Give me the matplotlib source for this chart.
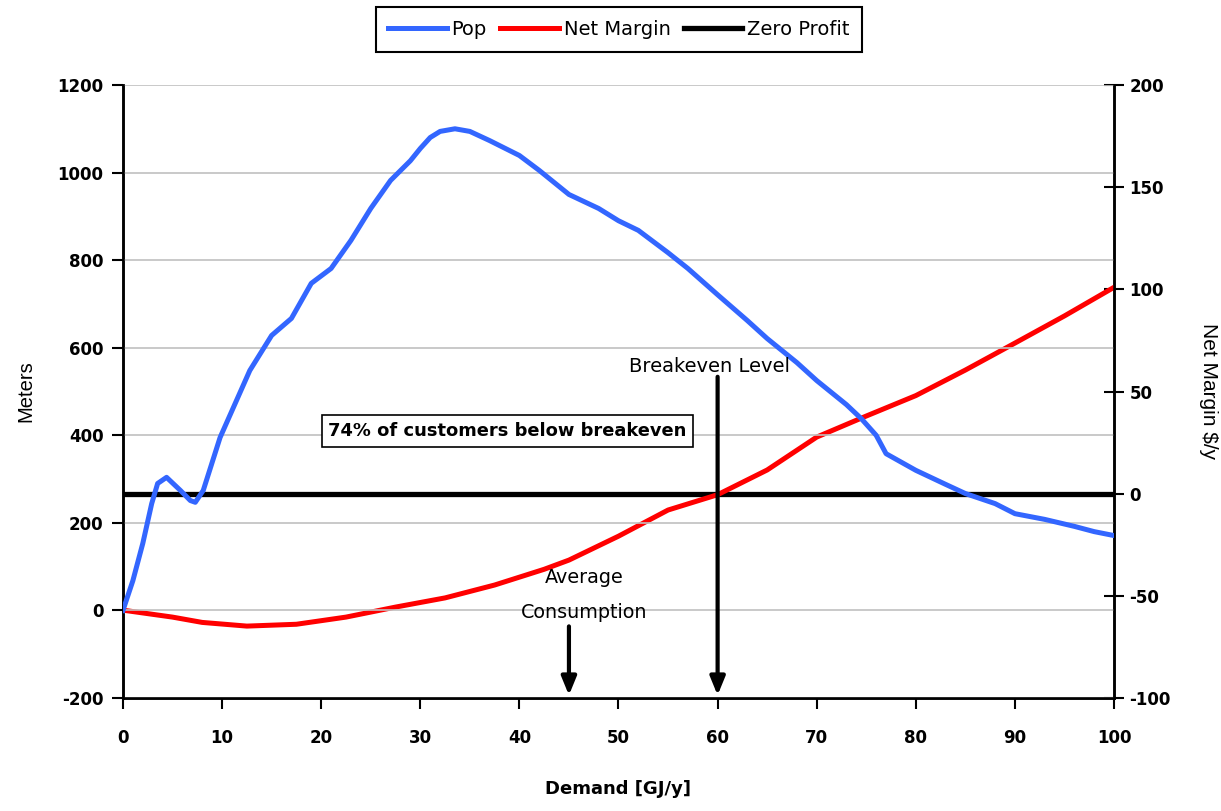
import matplotlib
matplotlib.use('Agg')
import matplotlib.pyplot as plt
import numpy as np

# demand (GJ/y) vs number of meters
pop_x = [0, 1, 2, 2.9, 3.5, 4.4, 5.8, 6.8, 7.3, 8.1, 9.8, 12.8, 15, 17, 19, 21, 23, 25, 27, 29,
         30, 31, 32, 33.5, 35, 37, 40, 42, 45, 48, 50, 52, 55, 57, 60, 63, 65, 68, 70, 73,
         74.5, 76, 77, 80, 83, 85, 88, 90, 93, 96, 98, 100]
pop_y = [0, 68, 153, 244, 290, 304, 274, 251, 247, 274, 395, 548, 628, 667, 747, 781, 845, 918, 982, 1027,
         1055, 1080, 1094, 1100, 1094, 1073, 1039, 1005, 950, 918, 890, 868, 817, 781, 721, 662, 621, 566, 525, 470,
         438, 400, 358, 320, 288, 267, 244, 221, 208, 192, 180, 171]

# net margin $/y
margin_x = [0, 5, 8, 12.5, 17.5, 22.5, 27.5, 32.5, 37.5, 42.5, 45, 50, 55, 60, 65, 70, 75, 77.5, 80, 85, 90, 95, 100]
margin_y = [-57, -60.4, -63, -64.8, -63.9, -60.4, -55.5, -51, -44.7, -37, -32.5, -20.8, -8, -0.5, 11.6, 27.7, 38, 43, 48, 60.5, 73.7, 87, 101]

x_ticks = [0, 10, 20, 30, 40, 50, 60, 70, 80, 90, 100]
left_ticks = [-200, 0, 200, 400, 600, 800, 1000, 1200]
right_ticks = [-100, -50, 0, 50, 100, 150, 200]

breakeven_x = 60
avg_x = 45

fig = plt.figure(figsize=(12.21, 8.11), dpi=100)
ax = fig.add_axes([0.1007, 0.1393, 0.8117, 0.7559])
ax2 = ax.twinx()
ax.set_zorder(ax2.get_zorder() + 1)
ax.patch.set_visible(False)

tickfont = {'family': 'DejaVu Sans', 'weight': 'bold', 'size': 12}

# net margin and zero profit on the right axis
l_margin, = ax2.plot(margin_x, margin_y, color='#ff0000', linewidth=3.6, label='Net Margin',
                     zorder=3, solid_joinstyle='round')
l_zero = ax2.axhline(0, color='black', linewidth=3.8, label='Zero Profit', zorder=2)
ax2.set_ylim(-100, 200)
ax2.set_yticks(right_ticks)
ax2.set_yticklabels([str(t) for t in right_ticks], fontdict=tickfont)
ax2.tick_params(axis='y', direction='inout', length=14, width=1.5, pad=4)
ax2.set_ylabel('Net Margin $/y', rotation=-90, labelpad=34, fontsize=15, family='Liberation Sans')

# population on the left axis
l_pop, = ax.plot(pop_x, pop_y, color='#3366ff', linewidth=3.6, label='Pop', zorder=3,
                 solid_joinstyle='round')
ax.set_xlim(0, 100)
ax.set_ylim(-200, 1200)
ax.set_xticks(x_ticks)
ax.set_xticklabels([str(t) for t in x_ticks], fontdict=tickfont)
ax.set_yticks(left_ticks)
ax.set_yticklabels([str(t) for t in left_ticks], fontdict=tickfont)
ax.tick_params(axis='both', direction='out', length=8, width=1.5, pad=6)
ax.tick_params(axis='x', pad=14)
ax.yaxis.grid(True, color='#c0c0c0', linewidth=1.2, zorder=0)
ax.set_axisbelow(True)
ax.set_ylabel('Meters', fontsize=14.5, family='Liberation Sans', labelpad=16)
ax.set_xlabel('Demand [GJ/y]', fontsize=13, fontweight='bold', family='DejaVu Sans', labelpad=24)

for a in (ax, ax2):
    a.spines['top'].set_visible(False)
    for s in ('left', 'right', 'bottom'):
        a.spines[s].set_linewidth(1.8)

# annotations
ax.annotate('', xy=(breakeven_x, -200), xytext=(breakeven_x, 540),
            arrowprops=dict(arrowstyle='-|>,head_width=0.45,head_length=1.1', color='black', lw=3), zorder=4)
ax.text(breakeven_x - 0.8, 558, 'Breakeven Level', ha='center', va='center', fontsize=14, family='DejaVu Sans')

ax.annotate('', xy=(avg_x, -200), xytext=(avg_x, -30),
            arrowprops=dict(arrowstyle='-|>,head_width=0.45,head_length=1.1', color='black', lw=3), zorder=4)
ax.text(avg_x + 1.5, 76, 'Average', ha='center', va='center', fontsize=13.8, family='DejaVu Sans')
ax.text(avg_x + 1.5, -4, 'Consumption', ha='center', va='center', fontsize=13.8, family='DejaVu Sans')

ax.text(38.8, 410, '74% of customers below breakeven', ha='center', va='center',
        fontsize=12.9, fontweight='bold', family='DejaVu Sans', zorder=5,
        bbox=dict(boxstyle='square,pad=0.38', facecolor='white', edgecolor='black', linewidth=1.2))

leg = fig.legend([l_pop, l_margin, l_zero], ['Pop', 'Net Margin', 'Zero Profit'],
                 loc='center', bbox_to_anchor=(0.507, 0.9636), ncol=3, fancybox=False,
                 edgecolor='black', framealpha=1, fontsize=14, handlelength=3.0,
                 handletextpad=0.25, columnspacing=0.7, borderpad=0.65)
leg.get_frame().set_linewidth(1.5)

fig.savefig('out.png', dpi=100)
